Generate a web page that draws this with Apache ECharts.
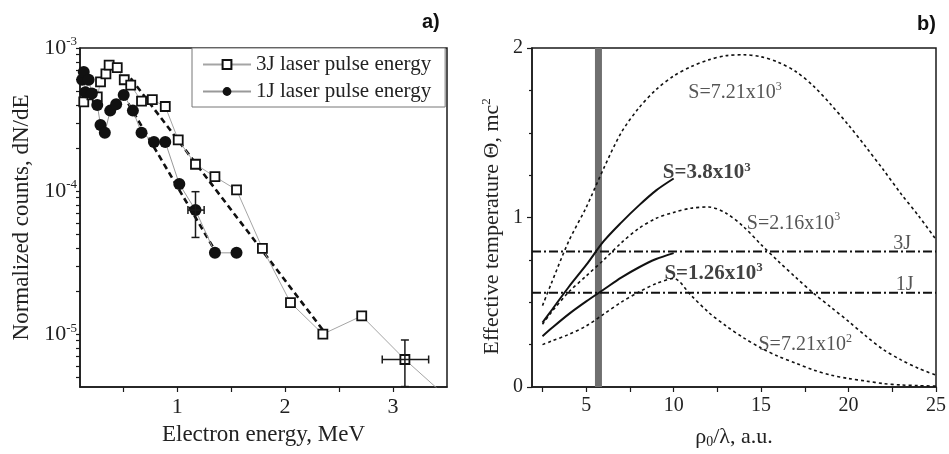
<!DOCTYPE html>
<html><head><meta charset="utf-8">
<script src="https://cdn.jsdelivr.net/npm/echarts@6/dist/echarts.min.js"></script>
<style>html,body{margin:0;padding:0;background:#fff}#c{width:949px;height:454px}</style>
</head><body><div id="c"></div>
<script>
// ---------- Panel a) data ----------
const energy3J = [0.135, 0.21, 0.26, 0.29, 0.34, 0.37, 0.445, 0.51, 0.57, 0.67, 0.77, 0.89, 1.01, 1.17, 1.35, 1.55, 1.79, 2.05, 2.35, 2.71, 3.11, 3.6];
const counts3J = [4.2e-4, 4.7e-4, 4.55e-4, 5.8e-4, 6.6e-4, 7.6e-4, 7.3e-4, 6.0e-4, 5.5e-4, 4.25e-4, 4.35e-4, 3.9e-4, 2.28e-4, 1.54e-4, 1.26e-4, 1.02e-4, 3.98e-5, 1.66e-5, 1.0e-5, 1.34e-5, 6.65e-6, 3.1e-6];
const energy1J = [0.12, 0.135, 0.15, 0.18, 0.21, 0.26, 0.29, 0.33, 0.38, 0.435, 0.505, 0.59, 0.67, 0.785, 0.89, 1.02, 1.17, 1.35, 1.55];
const counts1J = [6.0e-4, 6.8e-4, 4.9e-4, 6.0e-4, 4.8e-4, 4.0e-4, 2.9e-4, 2.56e-4, 3.65e-4, 4.05e-4, 4.7e-4, 3.65e-4, 2.56e-4, 2.2e-4, 2.2e-4, 1.12e-4, 7.36e-5, 3.7e-5, 3.7e-5];
const fit3J_E = [0.57, 2.35];
const fit3J_N = [6.14e-4, 1.07e-5];
const fit1J_E = [0.5, 1.33];
const fit1J_N = [4.7e-4, 4.08e-5];
// error bars: [E, N, E_low, E_high, N_low, N_high]
const err3J = [3.11, 6.65e-6, 2.90, 3.33, 4.3e-6, 9.1e-6];
const err1J = [1.17, 7.36e-5, 1.10, 1.25, 4.74e-5, 9.9e-5];
const energyTicks = [0.5, 1, 1.5, 2, 2.5, 3];
const energyLabels = [1, 2, 3];
const countLabels = [1e-5, 1e-4, 1e-3];
const countTicks = [5e-6, 6e-6, 7e-6, 8e-6, 9e-6, 1e-5, 2e-5, 3e-5, 4e-5, 5e-5, 6e-5, 7e-5, 8e-5, 9e-5, 1e-4, 2e-4, 3e-4, 4e-4, 5e-4, 6e-4, 7e-4, 8e-4, 9e-4, 1e-3];
const legendNames = ['3J laser pulse energy', '1J laser pulse energy'];

// ---------- Panel b) data ----------
const rho = [2.5, 3, 4, 5, 6, 7, 8, 9, 10, 11, 12, 13, 14, 15, 16, 17, 18, 19, 20, 21, 22, 23, 24, 25];
const theta_S721e3 = [0.48, 0.61, 0.86, 1.06, 1.29, 1.50, 1.645, 1.755, 1.835, 1.89, 1.93, 1.955, 1.96, 1.948, 1.915, 1.86, 1.775, 1.665, 1.545, 1.415, 1.28, 1.14, 1.01, 0.87];
const theta_S216e3 = [0.37, 0.44, 0.56, 0.655, 0.75, 0.85, 0.935, 0.995, 1.03, 1.055, 1.062, 1.025, 0.945, 0.84, 0.74, 0.645, 0.553, 0.47, 0.387, 0.30, 0.22, 0.16, 0.11, 0.07];
const theta_S721e2 = [0.25, 0.27, 0.31, 0.36, 0.43, 0.50, 0.56, 0.61, 0.64, 0.54, 0.44, 0.36, 0.29, 0.23, 0.18, 0.14, 0.10, 0.07, 0.05, 0.035, 0.02, 0.012, 0.008, 0.005];
const rhoShort = [2.5, 3, 4, 5, 6, 7, 8, 9, 10];
const theta_S38e3 = [0.38, 0.45, 0.59, 0.72, 0.86, 0.97, 1.07, 1.16, 1.23];
const theta_S126e3 = [0.30, 0.345, 0.43, 0.505, 0.575, 0.645, 0.705, 0.755, 0.79];
const level3J = 0.8;
const level1J = 0.556;
const bandRho = [5.5, 5.9];
const rhoTicks = [2.5, 5, 7.5, 10, 12.5, 15, 17.5, 20, 22.5, 25];
const rhoLabels = [5, 10, 15, 20, 25];
const annText = ['S=7.21x10', 'S=3.8x10', 'S=2.16x10', 'S=1.26x10', 'S=7.21x10', '3J', '1J'];
const annSup = ['3', '3', '3', '3', '2', '', ''];
const annBold = [false, true, false, true, false, false, false];
const annRho = [10.84, 9.38, 14.18, 9.47, 14.85, 22.56, 22.7];
const annTheta = [1.735, 1.263, 0.966, 0.671, 0.248, 0.848, 0.602];

// ---------- chart ----------
const serif = "'Liberation Serif', 'Times New Roman', serif";
const ink = '#1a1a1a';
const chart = echarts.init(document.getElementById('c'));
const zip = (a, b) => a.map((v, i) => [v, b[i]]);

function pow10Label(v) {
  const l = Math.log10(v), e = Math.round(l);
  if (Math.abs(l - e) > 1e-6) return '';
  return '{b|10}{s|' + e + '}';
}

function errRender(params, api) {
  const x = api.value(0), y = api.value(1);
  const l = api.coord([api.value(2), y]), r = api.coord([api.value(3), y]);
  const b = api.coord([x, api.value(4)]), t = api.coord([x, api.value(5)]);
  const cap = 4;
  const style = { stroke: ink, lineWidth: 1.5 };
  const ln = (x1, y1, x2, y2) => ({ type: 'line', shape: { x1, y1, x2, y2 }, style });
  return { type: 'group', children: [
    ln(l[0], l[1], r[0], r[1]),
    ln(l[0], l[1] - cap, l[0], l[1] + cap),
    ln(r[0], r[1] - cap, r[0], r[1] + cap),
    ln(t[0], t[1], b[0], b[1]),
    ln(t[0] - cap, t[1], t[0] + cap, t[1]),
    ln(b[0] - cap, b[1], b[0] + cap, b[1])
  ]};
}

const axisLineStyle = { show: true, lineStyle: { color: ink, width: 1.5 } };
const tickStyle = { lineStyle: { color: ink, width: 1.2 } };
const curveCommon = { type: 'line', xAxisIndex: 1, yAxisIndex: 1, symbol: 'none', smooth: 0.3, z: 3 };

const option = {
  animation: false,
  backgroundColor: '#fff',
  textStyle: { fontFamily: serif },
  grid: [
    { left: 80, top: 48, width: 367, height: 339, show: true, borderColor: ink, borderWidth: 1.5, backgroundColor: 'transparent' },
    { left: 532, top: 48, width: 404, height: 339, show: true, borderColor: ink, borderWidth: 1.5, backgroundColor: 'transparent' }
  ],
  xAxis: [
    { gridIndex: 0, type: 'value', min: 0.1, max: 3.5,
      name: 'Electron energy, MeV', nameLocation: 'middle', nameGap: 36,
      nameTextStyle: { fontFamily: serif, fontSize: 23, color: '#222' },
      axisLine: axisLineStyle, splitLine: { show: false },
      axisTick: { show: true, length: 5, customValues: energyTicks, ...tickStyle },
      axisLabel: { customValues: energyLabels, fontFamily: serif, fontSize: 22, color: '#222', margin: 9 } },
    { gridIndex: 1, type: 'value', min: 1.9, max: 25,
      name: '{a|ρ}{sub|0}{a|/λ, a.u.}', nameLocation: 'middle', nameGap: 38,
      nameTextStyle: { fontFamily: serif, fontSize: 22, color: '#222',
        rich: { a: { fontFamily: serif, fontSize: 22, color: '#222' }, sub: { fontFamily: serif, fontSize: 14, color: '#222', verticalAlign: 'bottom', padding: [10, 0, 0, 0] } } },
      axisLine: axisLineStyle, splitLine: { show: false },
      axisTick: { show: true, length: 5, customValues: rhoTicks, ...tickStyle },
      axisLabel: { customValues: rhoLabels, fontFamily: serif, fontSize: 20, color: '#222', margin: 9 } }
  ],
  yAxis: [
    { gridIndex: 0, type: 'log', logBase: 10, min: 4.27e-6, max: 1e-3,
      name: 'Normalized counts, dN/dE', nameLocation: 'middle', nameGap: 47,
      nameTextStyle: { fontFamily: serif, fontSize: 23, color: '#222' },
      axisLine: axisLineStyle, splitLine: { show: false },
      axisTick: { show: true, length: 4, customValues: countTicks, ...tickStyle },
      axisLabel: { customValues: countLabels, formatter: pow10Label, margin: 3,
        rich: { b: { fontFamily: serif, fontSize: 22, color: '#222' }, s: { fontFamily: serif, fontSize: 13, color: '#222', verticalAlign: 'top', padding: [0, 0, 12, 0] } } } },
    { gridIndex: 1, type: 'value', min: 0, max: 2, interval: 1,
      name: 'Effective temperature Θ, mc{sup|2}', nameLocation: 'middle', nameGap: 27,
      nameTextStyle: { fontFamily: serif, fontSize: 22, color: '#222', padding: [0, 18, 0, 0],
        rich: { sup: { fontFamily: serif, fontSize: 13, color: '#222', verticalAlign: 'top', padding: [0, 0, 12, 0] } } },
      axisLine: axisLineStyle, splitLine: { show: false },
      axisTick: { show: true, length: 5, ...tickStyle },
      minorTick: { show: true, splitNumber: 4, length: 3, lineStyle: { color: ink, width: 1.2 } },
      axisLabel: { fontFamily: serif, fontSize: 20, color: '#222', margin: 9 } }
  ],
  legend: {
    data: legendNames, orient: 'vertical', left: 192, top: 48,
    itemWidth: 48, itemHeight: 11, itemGap: 6,
    padding: [6, 14, 5, 10],
    borderColor: '#777', borderWidth: 1, backgroundColor: '#fff',
    textStyle: { fontFamily: serif, fontSize: 21, color: '#222' },
    selectedMode: false
  },
  graphic: [
    { type: 'text', left: 422, top: 12, style: { text: 'a)', fontFamily: "'Liberation Sans', Arial, sans-serif", fontWeight: 'bold', fontSize: 20, fill: '#111' } },
    { type: 'text', left: 917, top: 14, style: { text: 'b)', fontFamily: "'Liberation Sans', Arial, sans-serif", fontWeight: 'bold', fontSize: 20, fill: '#111' } }
  ],
  series: [
    { name: legendNames[0], type: 'line', xAxisIndex: 0, yAxisIndex: 0, data: zip(energy3J, counts3J),
      symbol: 'rect', symbolSize: 9, showAllSymbol: true, clip: true,
      lineStyle: { color: '#a5a5a5', width: 1 },
      itemStyle: { color: '#fff', borderColor: '#111', borderWidth: 1.8 }, z: 4 },
    { name: legendNames[1], type: 'line', xAxisIndex: 0, yAxisIndex: 0, data: zip(energy1J, counts1J),
      symbol: 'circle', symbolSize: 12, showAllSymbol: true, clip: true,
      lineStyle: { color: '#999', width: 1 },
      itemStyle: { color: '#111' }, z: 4 },
    { name: 'fit3J', type: 'line', xAxisIndex: 0, yAxisIndex: 0, data: zip(fit3J_E, fit3J_N), symbol: 'none',
      lineStyle: { color: '#111', width: 2.6, type: [6, 4] }, z: 3 },
    { name: 'fit1J', type: 'line', xAxisIndex: 0, yAxisIndex: 0, data: zip(fit1J_E, fit1J_N), symbol: 'none',
      lineStyle: { color: '#111', width: 2.6, type: [6, 4] }, z: 3 },
    { name: 'err', type: 'custom', xAxisIndex: 0, yAxisIndex: 0, data: [err3J, err1J], renderItem: errRender, z: 6 },

    { ...curveCommon, name: 'S721e3', data: zip(rho, theta_S721e3),
      lineStyle: { color: '#111', width: 1.6, type: [3, 3] },
      markArea: { silent: true, itemStyle: { color: '#6f6f6f' }, data: [[{ xAxis: bandRho[0] }, { xAxis: bandRho[1] }]] } },
    { ...curveCommon, name: 'S216e3', data: zip(rho, theta_S216e3), lineStyle: { color: '#111', width: 1.6, type: [3, 3] } },
    { ...curveCommon, name: 'S721e2', data: zip(rho, theta_S721e2), lineStyle: { color: '#111', width: 1.6, type: [3, 3] } },
    { ...curveCommon, name: 'S38e3', data: zip(rhoShort, theta_S38e3), lineStyle: { color: '#111', width: 2 } },
    { ...curveCommon, name: 'S126e3', data: zip(rhoShort, theta_S126e3), lineStyle: { color: '#111', width: 2 } },
    { name: 'lvl3J', type: 'line', xAxisIndex: 1, yAxisIndex: 1, data: [[1.9, level3J], [25, level3J]], symbol: 'none',
      lineStyle: { color: '#111', width: 2, type: [9, 3, 2, 3] }, z: 3 },
    { name: 'lvl1J', type: 'line', xAxisIndex: 1, yAxisIndex: 1, data: [[1.9, level1J], [25, level1J]], symbol: 'none',
      lineStyle: { color: '#111', width: 2, type: [9, 3, 2, 3] }, z: 3 },
    { name: 'ann', type: 'scatter', xAxisIndex: 1, yAxisIndex: 1, symbolSize: 0, silent: true, z: 7,
      data: annRho.map((r, i) => ({ value: [r, annTheta[i]],
        label: { show: true, position: [0, 0], align: 'left', verticalAlign: 'middle',
          formatter: (annBold[i] ? '{bm|' + annText[i] + '}' + (annSup[i] ? '{bs|' + annSup[i] + '}' : '')
                                  : '{m|' + annText[i] + '}' + (annSup[i] ? '{s|' + annSup[i] + '}' : '')),
          rich: {
            m: { fontFamily: serif, fontSize: 20, color: '#2a2a2a', lineHeight: 24 },
            s: { fontFamily: serif, fontSize: 12, color: '#2a2a2a', verticalAlign: 'top', lineHeight: 24 },
            bm: { fontFamily: serif, fontSize: 21, fontWeight: 'bold', color: '#111', lineHeight: 24 },
            bs: { fontFamily: serif, fontSize: 13, fontWeight: 'bold', color: '#111', verticalAlign: 'top', lineHeight: 24 }
          } } })) }
  ]
};
chart.setOption(option);
</script>
</body></html>
